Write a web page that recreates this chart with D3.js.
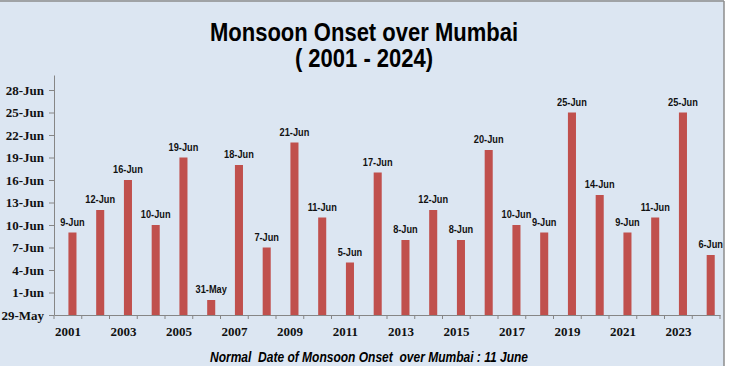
<!DOCTYPE html>
<html>
<head>
<meta charset="utf-8">
<script src="https://cdn.jsdelivr.net/npm/d3@7"></script>
<style>
  html, body { margin: 0; padding: 0; background: #ffffff; }
  svg { display: block; }
</style>
</head>
<body>
<svg id="chart" width="730" height="366"></svg>
<script>
// ---- data ----
const years = ["2001","2002","2003","2004","2005","2006","2007","2008","2009","2010","2011","2012",
               "2013","2014","2015","2016","2017","2018","2019","2020","2021","2022","2023","2024"];
const onsetLabels = ["9-Jun","12-Jun","16-Jun","10-Jun","19-Jun","31-May","18-Jun","7-Jun","21-Jun","11-Jun","5-Jun","17-Jun",
                     "8-Jun","12-Jun","8-Jun","20-Jun","10-Jun","9-Jun","25-Jun","14-Jun","9-Jun","11-Jun","25-Jun","6-Jun"];
const yTickLabels = ["29-May","1-Jun","4-Jun","7-Jun","10-Jun","13-Jun","16-Jun","19-Jun","22-Jun","25-Jun","28-Jun"];
const xTickLabels = ["2001","2003","2005","2007","2009","2011","2013","2015","2017","2019","2021","2023"];
const yDomainLabels = ["29-May","30-Jun"];
const titleLines = ["Monsoon Onset over Mumbai", "( 2001 - 2024)"];
const footnote = "Normal  Date of Monsoon Onset  over Mumbai : 11 June";

// ---- setup ----
const parse = d3.timeParse("%d-%b-%Y");
const toDate = s => parse(s + "-2001");
const svg = d3.select("#chart");
const H = 366;
const sans = "'Liberation Sans',Arial,sans-serif";
const serif = "'Times New Roman','Liberation Serif','DejaVu Serif',serif";

// compress a text element horizontally (narrow-font look) keeping it real text
function squeeze(sel, factor) {
  sel.each(function () {
    const w = this.getComputedTextLength();
    d3.select(this).attr("textLength", w * factor).attr("lengthAdjust", "spacingAndGlyphs");
  });
}

// background panel
svg.append("rect").attr("x", 0).attr("y", 0).attr("width", 724).attr("height", H).attr("fill", "#dce6f2");
svg.append("line").attr("x1", 0).attr("x2", 724).attr("y1", 1).attr("y2", 1).attr("stroke", "#8c8c8c").attr("stroke-width", 1.5);
svg.append("line").attr("x1", 724).attr("x2", 724).attr("y1", 1).attr("y2", H).attr("stroke", "#8c8c8c").attr("stroke-width", 1.5);

const plot = { left: 54, right: 720, top: 75, bottom: 315 };

const x = d3.scaleBand().domain(years).range([plot.left, plot.right]).padding(0);
const y = d3.scaleTime().domain(yDomainLabels.map(toDate)).range([plot.bottom, plot.top]);

const barW = x.bandwidth() * 0.29;
const barOffset = x.bandwidth() * 0.165;
const barCenter = yr => x(yr) + x.bandwidth() / 2 + barOffset;

// bars
svg.append("g").selectAll("rect").data(years).join("rect")
  .attr("x", (d) => barCenter(d) - barW / 2)
  .attr("width", barW)
  .attr("y", (d, i) => y(toDate(onsetLabels[i])))
  .attr("height", (d, i) => plot.bottom - y(toDate(onsetLabels[i])))
  .attr("fill", "#c0504d");

// data labels
const lbl = svg.append("g").selectAll("text").data(years).join("text")
  .attr("x", d => barCenter(d))
  .attr("y", (d, i) => y(toDate(onsetLabels[i])) - 7)
  .attr("text-anchor", "middle")
  .attr("font-family", sans)
  .attr("font-weight", "bold")
  .attr("font-size", 11.5)
  .attr("fill", "#111")
  .text((d, i) => onsetLabels[i]);
squeeze(lbl, 0.8);

// y axis
const yAxis = d3.axisLeft(y)
  .tickValues(yTickLabels.map(toDate))
  .tickFormat(d3.timeFormat("%-d-%b"))
  .tickSizeInner(5).tickSizeOuter(0).tickPadding(5);
const gy = svg.append("g").attr("transform", `translate(${plot.left},0)`).call(yAxis);
gy.attr("font-family", serif);
gy.select(".domain").attr("stroke", "#868686");
gy.selectAll(".tick line").attr("stroke", "#868686");
gy.selectAll(".tick text").attr("font-family", serif).style("font-family", serif).attr("font-weight", "bold")
  .attr("font-size", 13).attr("fill", "#111");

// x axis
const xAxis = d3.axisBottom(x).tickSize(0).tickPadding(12)
  .tickValues(xTickLabels);
const gx = svg.append("g").attr("transform", `translate(0,${plot.bottom})`).call(xAxis);
gx.attr("font-family", serif);
gx.select(".domain").attr("stroke", "#868686");
gx.selectAll(".tick text").attr("font-family", serif).style("font-family", serif).attr("font-weight", "bold")
  .attr("font-size", 13).attr("fill", "#111");
// category boundary ticks
const bounds = years.map(d => x(d)).concat([plot.right]);
svg.append("g").selectAll("line").data(bounds).join("line")
  .attr("x1", d => d).attr("x2", d => d)
  .attr("y1", plot.bottom).attr("y2", plot.bottom + 4)
  .attr("stroke", "#868686");

// title
const t1 = svg.append("text").attr("x", 364).attr("y", 41).attr("text-anchor", "middle")
  .attr("font-family", sans).attr("font-weight", "bold").attr("font-size", 25).attr("fill", "#000")
  .text(titleLines[0]);
const t2 = svg.append("text").attr("x", 364).attr("y", 67).attr("text-anchor", "middle")
  .attr("font-family", sans).attr("font-weight", "bold").attr("font-size", 25).attr("fill", "#000")
  .text(titleLines[1]);
const titleFactor = 308 / t1.node().getComputedTextLength();
squeeze(t1, titleFactor);
squeeze(t2, titleFactor);

// footnote
const fn = svg.append("text").attr("x", 369).attr("y", 362).attr("text-anchor", "middle")
  .attr("font-family", sans).attr("font-weight", "bold").attr("font-style", "italic")
  .attr("font-size", 14).attr("fill", "#000")
  .attr("xml:space", "preserve").style("white-space", "pre")
  .text(footnote);
squeeze(fn, 318 / fn.node().getComputedTextLength());
</script>
</body>
</html>
